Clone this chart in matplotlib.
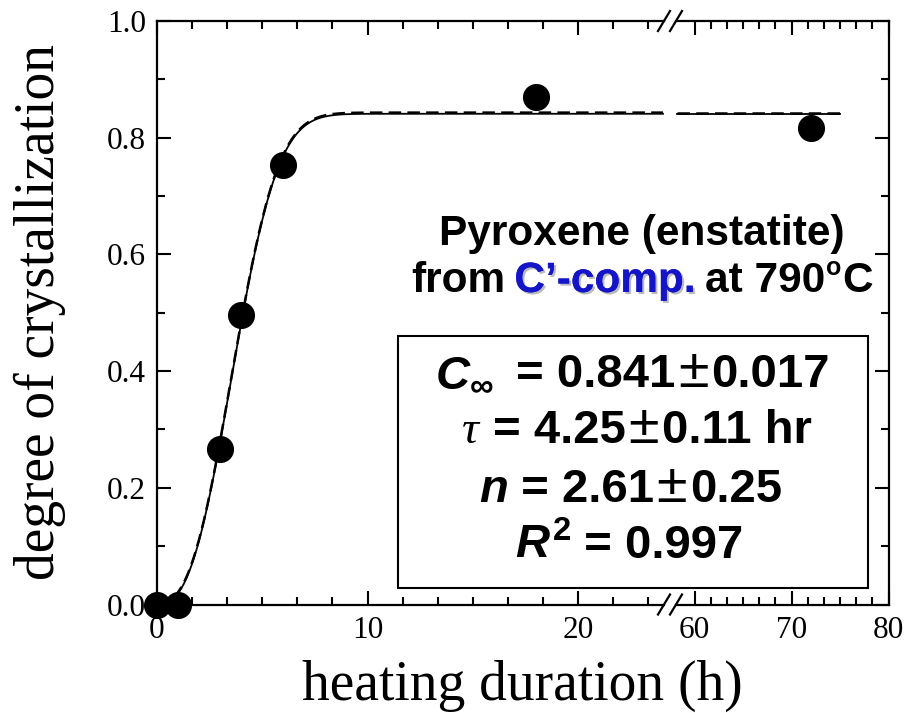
import numpy as np
import matplotlib
matplotlib.use('Agg')
import matplotlib.pyplot as plt
from matplotlib.ticker import MultipleLocator, FixedLocator
import matplotlib.patheffects as pe
from matplotlib.patches import Rectangle
from matplotlib.lines import Line2D

# ---------------- data ----------------
time_h = [0, 1, 3, 4, 6, 18, 72]
crystallization = [0.0, 0.0, 0.267, 0.497, 0.753, 0.869, 0.817]
# Avrami fit parameters shown in the chart
c_inf = 0.841
tau = 4.25
n_avrami = 2.61
fit_start, fit_end = 0.0, 75.0
y_ticks = [0.0, 0.2, 0.4, 0.6, 0.8, 1.0]
y_tick_labels = ['0.0', '0.2', '0.4', '0.6', '0.8', '1.0']
x_ticks_left = [0, 10, 20]
x_ticks_right = [60, 70, 80]
xlim_left = (0.0, 24.37)
xlim_right = (57.47, 80.0)

plt.rcParams['font.family'] = ['Liberation Serif', 'DejaVu Serif']
plt.rcParams['mathtext.fontset'] = 'custom'
plt.rcParams['mathtext.rm'] = 'Liberation Sans:bold'
plt.rcParams['mathtext.bf'] = 'Liberation Sans:bold'
plt.rcParams['mathtext.it'] = 'Liberation Sans:italic:bold'

W, H = 906, 713
fig = plt.figure(figsize=(W / 100, H / 100), dpi=100)


def fx(p):
    return p / W


def fy(p):
    return 1 - p / H


L, R, T, B = 157, 888.5, 21, 604.5
BRK = 670
ax1 = fig.add_axes([fx(L), fy(B), fx(BRK) - fx(L), fy(T) - fy(B)])
ax2 = fig.add_axes([fx(BRK), fy(B), fx(R) - fx(BRK), fy(T) - fy(B)])

ax1.set_xlim(*xlim_left)
ax2.set_xlim(*xlim_right)
for ax in (ax1, ax2):
    ax.set_ylim(0, 1)
    ax.yaxis.set_major_locator(FixedLocator(y_ticks))
    ax.yaxis.set_minor_locator(MultipleLocator(0.1))
    for s in ax.spines.values():
        s.set_linewidth(1.6)
    ax.tick_params(which='both', direction='in', top=True, bottom=True,
                   width=1.5, labelsize=22.5, pad=8)
    ax.tick_params(which='major', length=10)
    ax.tick_params(which='minor', length=6)

ax1.spines['right'].set_visible(False)
ax2.spines['left'].set_visible(False)
ax1.tick_params(which='both', left=True, right=False)
ax2.tick_params(which='both', left=False, right=True, labelleft=False, labelright=False)
ax1.set_yticks(y_ticks)
ax1.set_yticklabels(y_tick_labels)

ax1.set_xticks(x_ticks_left)
ax1.xaxis.set_minor_locator(MultipleLocator(10 / 6))
ax2.set_xticks(x_ticks_right)
ax2.xaxis.set_minor_locator(FixedLocator(np.arange(60, 80.01, 10 / 6)))

# spine gap at the break
px1 = (BRK - L) / (xlim_left[1] - xlim_left[0])
px2 = (R - BRK) / (xlim_right[1] - xlim_right[0])
gap_l = xlim_left[0] + (664 - L) / px1
gap_r = xlim_right[0] + (676 - BRK) / px2
for side in ('top', 'bottom'):
    ax1.spines[side].set_bounds(xlim_left[0], gap_l)
    ax2.spines[side].set_bounds(gap_r, xlim_right[1])

# ---------------- fit curve ----------------
def avrami(t):
    return c_inf * (1 - np.exp(-(t / tau) ** n_avrami))

curve_l_end = xlim_left[0] + (663 - L) / px1
curve_r_start = xlim_right[0] + (677 - BRK) / px2
tl = np.linspace(fit_start, curve_l_end, 400)
tr = np.linspace(curve_r_start, fit_end, 100)
for ax, t in ((ax1, tl), (ax2, tr)):
    ax.plot(t, avrami(t), '-', color='k', lw=1.3, zorder=3)
    ax.plot(t, avrami(t) + 0.002, color='k', lw=1.8, dashes=(5, 2.5), zorder=3)

# ---------------- data points ----------------
th = np.array(time_h)
cr = np.array(crystallization)
mL = th <= xlim_left[1]
mR = th >= xlim_right[0]
ax1.plot(th[mL], cr[mL], 'o', color='k', ms=18.5, clip_on=False, zorder=5)
ax2.plot(th[mR], cr[mR], 'o', color='k', ms=18.5, clip_on=False, zorder=5)

# ---------------- break marks ----------------
for yc in (T, B):
    for xc in (664, 676):
        fig.add_artist(Line2D([fx(xc - 6), fx(xc + 6)], [fy(yc + 10), fy(yc - 10)],
                              color='k', lw=1.6, transform=fig.transFigure))

# ---------------- axis labels ----------------
fig.text(fx(522), fy(686), 'heating duration (h)', ha='center', va='center',
         fontsize=40, family='Liberation Serif')
fig.text(fx(40), fy(312), 'degree of crystallization', ha='center', va='center',
         rotation=90, fontsize=40, family='Liberation Serif')

# ---------------- annotation text ----------------
SANS = dict(family='Liberation Sans', weight='bold')


def place_pieces(items, xc, yb):
    """items: (string, text kwargs, gap after in px, vertical raise in px)"""
    texts = []
    for s, kw, gap, dy in items:
        t = fig.text(0, fy(yb - dy), s, ha='left', va='baseline', **kw)
        texts.append((t, gap))
    fig.canvas.draw()
    r = fig.canvas.get_renderer()
    widths = [t.get_window_extent(r).width + g for t, g in texts]
    x = xc - sum(widths) / 2
    for (t, g), w in zip(texts, widths):
        t.set_x(fx(x))
        x += w


TFS = 30.5
fig.text(fx(641.5), fy(245), 'Pyroxene (enstatite)', ha='center', va='baseline',
         fontsize=TFS, **SANS)
shadow = [pe.withSimplePatchShadow(offset=(1.5, -1.5), shadow_rgbFace='0.55', alpha=0.6),
          pe.Normal()]
place_pieces([('from', dict(fontsize=TFS, **SANS), 9, 0),
              ('C\u2019-comp.', dict(fontsize=TFS, color='#1414c8', path_effects=shadow, **SANS), 9, 0),
              ('at 790', dict(fontsize=TFS, **SANS), 1, 0),
              ('o', dict(fontsize=18, **SANS), 1, 17),
              ('C', dict(fontsize=TFS, **SANS), 0, 0)],
             642, 292)

# box
fig.add_artist(Rectangle((fx(397.5), fy(588)), fx(867.5) - fx(397.5), fy(336) - fy(588),
                         fill=False, lw=1.5, ec='k', transform=fig.transFigure))
BOXFS = 34
PM = dict(fontsize=40, family='Liberation Sans', weight='normal')
place_pieces([('$C_{\\infty}$', dict(fontsize=BOXFS, **SANS), 22, 0),
              ('= 0.841', dict(fontsize=BOXFS, **SANS), 3, 0),
              ('\u00b1', PM, 3, 0),
              ('0.017', dict(fontsize=BOXFS, **SANS), 0, 0)], 632.5, 386.5)
place_pieces([('\u03c4', dict(fontsize=BOXFS, family='Liberation Serif', style='italic'), 14, 0),
              ('= 4.25', dict(fontsize=BOXFS, **SANS), 3, 0),
              ('\u00b1', PM, 3, 0),
              ('0.11 hr', dict(fontsize=BOXFS, **SANS), 0, 0)], 637, 443)
place_pieces([('$n$', dict(fontsize=BOXFS, **SANS), 0, 0),
              (' = 2.61', dict(fontsize=BOXFS, **SANS), 3, 0),
              ('\u00b1', PM, 3, 0),
              ('0.25', dict(fontsize=BOXFS, **SANS), 0, 0)], 630.5, 501.5)
place_pieces([('$R^2$', dict(fontsize=BOXFS, **SANS), 0, 0),
              (' = 0.997', dict(fontsize=BOXFS, **SANS), 0, 0)], 629, 558)

fig.savefig('out.png', dpi=100)
